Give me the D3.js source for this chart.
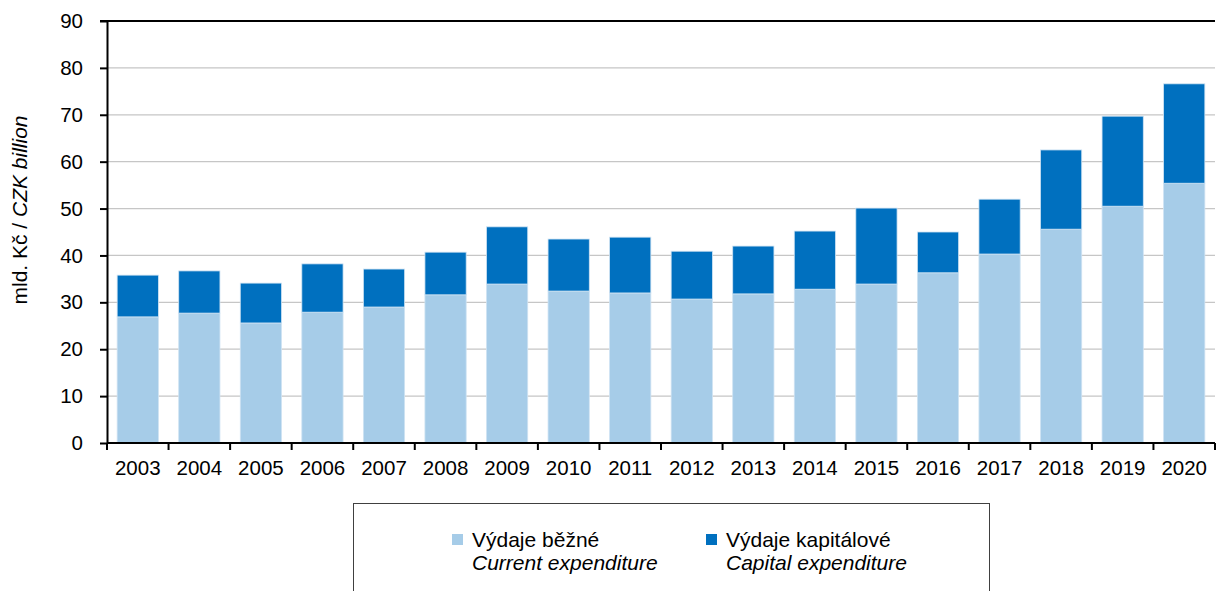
<!DOCTYPE html>
<html>
<head>
<meta charset="utf-8">
<script src="https://cdn.jsdelivr.net/npm/d3@7"></script>
<style>
  body { margin: 0; background: #fff; }
  svg text { font-family: "Liberation Sans", Arial, sans-serif; fill: #000; }
</style>
</head>
<body>
<div id="chart"></div>
<script>
// data (mld. Kč)
var years = ["2003", "2004", "2005", "2006", "2007", "2008", "2009", "2010", "2011",
    "2012", "2013", "2014", "2015", "2016", "2017", "2018", "2019", "2020"];
var current = [26.9, 27.7, 25.6, 27.9, 29.0, 31.6, 33.9, 32.4, 32.0,
    30.7, 31.8, 32.8, 33.9, 36.3, 40.3, 45.6, 50.5, 55.4];
var capital = [8.9, 9.0, 8.5, 10.3, 8.1, 9.1, 12.2, 11.1, 11.9,
    10.2, 10.2, 12.4, 16.2, 8.7, 11.7, 16.9, 19.2, 21.2];
var yTicks = [0, 10, 20, 30, 40, 50, 60, 70, 80, 90];

var W = 1216, H = 591;
var margin = { top: 21, right: 1, bottom: 148, left: 107 },
    width = W - margin.left - margin.right,
    height = H - margin.top - margin.bottom;
var fontSize = 20.5;

var svg = d3.select("#chart").append("svg")
    .attr("width", W)
    .attr("height", H);

var g = svg.append("g")
    .attr("transform", "translate(" + margin.left + "," + margin.top + ")");

var x = d3.scaleBand().domain(years).range([0, width]).paddingInner(0.33).paddingOuter(0.165);
var y = d3.scaleLinear().domain([0, 90]).range([height, 0]);

// gridlines
g.selectAll(".grid")
    .data(yTicks.filter(function (d) { return d > 0 && d < 90; }))
    .enter().append("line")
    .attr("x1", 0).attr("x2", width)
    .attr("y1", function (d) { return y(d); })
    .attr("y2", function (d) { return y(d); })
    .attr("stroke", "#c6c6c6")
    .attr("stroke-width", 1.3);

var rows = years.map(function (yr, i) {
    return { year: yr, current: current[i], capital: capital[i] };
});
var stack = d3.stack().keys(["current", "capital"])(rows);
var colors = { current: "#a6cce8", capital: "#0070bf" };

g.selectAll(".series")
    .data(stack)
    .enter().append("g")
    .attr("fill", function (d) { return colors[d.key]; })
    .selectAll("rect")
    .data(function (d) { return d; })
    .enter().append("rect")
    .attr("x", function (d) { return x(d.data.year); })
    .attr("width", x.bandwidth())
    .attr("y", function (d) { return y(d[1]); })
    .attr("height", function (d) { return y(d[0]) - y(d[1]); })
    .attr("stroke", "#cfe3f3")
    .attr("stroke-width", 0.8);

// y axis
var yAxis = d3.axisLeft(y).tickValues(yTicks).tickSize(7).tickSizeOuter(0);
var ya = g.append("g").call(yAxis);
ya.select(".domain").attr("stroke", "#000").attr("stroke-width", 2);
ya.selectAll(".tick line").attr("stroke", "#000").attr("stroke-width", 2);
ya.selectAll(".tick text").attr("font-size", fontSize).attr("x", -24)
    .attr("font-family", "Liberation Sans, Arial, sans-serif").attr("fill", "#000");

// top line
g.append("line")
    .attr("x1", -7).attr("x2", width)
    .attr("y1", 0).attr("y2", 0)
    .attr("stroke", "#000").attr("stroke-width", 2);

// x axis with ticks at band boundaries
g.append("line")
    .attr("x1", 0).attr("x2", width)
    .attr("y1", height).attr("y2", height)
    .attr("stroke", "#000").attr("stroke-width", 2);
var step = x.step();
g.selectAll(".xtick")
    .data(d3.range(years.length + 1))
    .enter().append("line")
    .attr("x1", function (i) { return i * step; })
    .attr("x2", function (i) { return i * step; })
    .attr("y1", height).attr("y2", height + 7)
    .attr("stroke", "#000").attr("stroke-width", 2);
g.selectAll(".xlabel")
    .data(years)
    .enter().append("text")
    .attr("x", function (d) { return x(d) + x.bandwidth() / 2; })
    .attr("y", height + 32)
    .attr("text-anchor", "middle")
    .attr("font-size", fontSize)
    .text(function (d) { return d; });

// y label
var yl = svg.append("text")
    .attr("transform", "translate(27,210) rotate(-90)")
    .attr("text-anchor", "middle")
    .attr("font-size", 21);
yl.append("tspan").text("mld. Kč / ");
yl.append("tspan").attr("font-style", "italic").text("CZK billion");

// legend
svg.append("rect")
    .attr("x", 353.5).attr("y", 503.5)
    .attr("width", 636).attr("height", 100)
    .attr("fill", "#fff")
    .attr("stroke", "#404040")
    .attr("stroke-width", 1);

var legendItems = [
    { key: "current", cz: "Výdaje běžné", en: "Current expenditure", x: 452 },
    { key: "capital", cz: "Výdaje kapitálové", en: "Capital expenditure", x: 706 }
];
var lg = svg.selectAll(".legend")
    .data(legendItems)
    .enter().append("g")
    .attr("transform", function (d) { return "translate(" + d.x + ",534)"; });
lg.append("rect")
    .attr("width", 11).attr("height", 11)
    .attr("fill", function (d) { return colors[d.key]; });
lg.append("text")
    .attr("x", 20).attr("y", 13)
    .attr("font-size", 21)
    .text(function (d) { return d.cz; });
lg.append("text")
    .attr("x", 20).attr("y", 36)
    .attr("font-size", 21)
    .attr("font-style", "italic")
    .text(function (d) { return d.en; });
</script>
</body>
</html>
